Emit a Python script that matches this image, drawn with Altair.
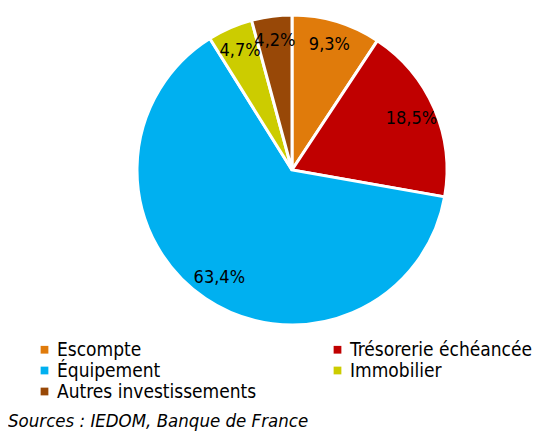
import altair as alt
import pandas as pd

categories = ["Escompte", "Trésorerie échéancée", "Équipement", "Immobilier", "Autres investissements"]
values = [9.3, 18.5, 63.4, 4.7, 4.2]
labels = ["9,3%", "18,5%", "63,4%", "4,7%", "4,2%"]
colors = ["#E07B0B", "#C00000", "#00B0F0", "#CCCC00", "#984807"]
legend_order = ["Escompte", "Équipement", "Autres investissements", "Trésorerie échéancée", "Immobilier"]
source_note = "Sources : IEDOM, Banque de France"

df = pd.DataFrame({"cat": categories, "val": values, "lab": labels, "ord": list(range(len(categories)))})
color_map = dict(zip(categories, colors))

FONT = "DejaVu Sans Condensed"

base = alt.Chart(df).encode(
    theta=alt.Theta("val:Q", stack=True),
    order=alt.Order("ord:Q"),
)

arcs = base.mark_arc(outerRadius=155, stroke="white", strokeWidth=3).encode(
    x=alt.value(284),
    y=alt.value(162),
    color=alt.Color(
        "cat:N",
        scale=alt.Scale(domain=legend_order, range=[color_map[c] for c in legend_order]),
        sort=legend_order,
        legend=alt.Legend(
            title=None,
            orient="none",
            legendX=27,
            legendY=332,
            columns=2,
            columnPadding=71,
            rowPadding=1,
            symbolType="square",
            symbolSize=60,
            symbolStrokeWidth=0,
            labelOffset=3,
            labelFont=FONT,
            labelFontSize=19,
            labelColor="#000000",
            labelLimit=400,
        ),
    ),
)

texts = base.mark_text(radius=130, font=FONT, fontSize=18, color="#000000").encode(
    x=alt.value(284),
    y=alt.value(162),
    text="lab:N",
)

note = alt.Chart(pd.DataFrame({"t": [source_note]})).mark_text(
    font=FONT, fontSize=18.5, fontStyle="italic", align="left", baseline="middle", color="#000000"
).encode(x=alt.value(0), y=alt.value(413), text="t:N")

chart = alt.layer(arcs, texts, note).properties(
    width=534, height=423, autosize=alt.AutoSizeParams(type="none"), padding=0
).configure_view(stroke=None)

chart.save("out.html", embed_options={"renderer": "svg", "actions": False})
